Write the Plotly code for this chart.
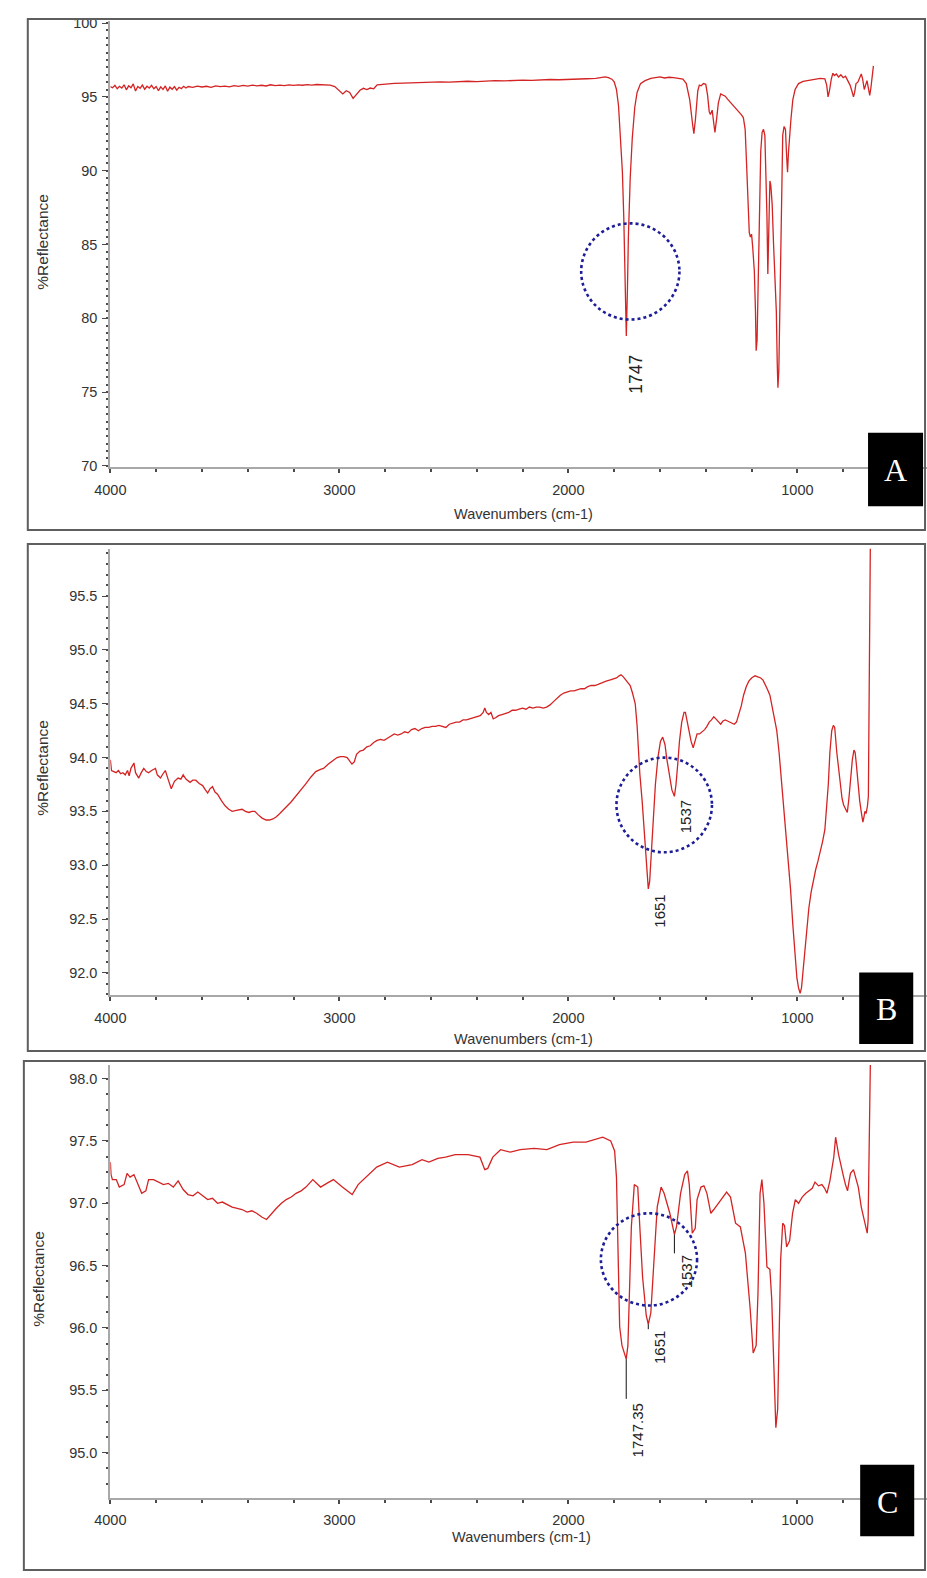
import plotly.graph_objects as go

W, H = 927, 1578

# ---------------- spectrum A ----------------
wn_a = [
    4000, 3990, 3980, 3970, 3960, 3950, 3940, 3930, 3920, 3910,
    3900, 3890, 3880, 3870, 3860, 3850, 3840, 3830, 3820, 3810,
    3800, 3790, 3780, 3770, 3760, 3750, 3740, 3730, 3720, 3710,
    3700, 3690, 3680, 3670, 3660, 3640, 3620, 3600, 3580, 3560,
    3540, 3520, 3500, 3480, 3460, 3440, 3420, 3400, 3380, 3360,
    3340, 3320, 3300, 3280, 3260, 3240, 3220, 3200, 3180, 3160,
    3140, 3120, 3100, 3080, 3060, 3040, 3020, 3000, 2985, 2970,
    2955, 2940, 2925, 2910, 2895, 2880, 2865, 2850, 2835, 2800,
    2760, 2720, 2680, 2640, 2600, 2560, 2520, 2480, 2440, 2400,
    2360, 2320, 2280, 2240, 2200, 2160, 2120, 2080, 2040, 2000,
    1960, 1920, 1880, 1860, 1840, 1825, 1810, 1800, 1790, 1781,
    1770, 1764, 1758, 1752, 1747, 1742, 1738, 1730, 1721, 1710,
    1700, 1685, 1665, 1640, 1620, 1600, 1580, 1560, 1540, 1520,
    1500, 1485, 1470, 1458, 1452, 1445, 1435, 1428, 1420, 1410,
    1400, 1392, 1385, 1380, 1372, 1365, 1360, 1352, 1345, 1335,
    1325, 1315, 1305, 1290, 1279, 1266, 1255, 1245, 1236, 1228,
    1222, 1215, 1210, 1205, 1200, 1195, 1188, 1183, 1180, 1176,
    1172, 1166, 1160, 1154, 1148, 1142, 1138, 1133, 1129, 1125,
    1120, 1116, 1110, 1104, 1098, 1092, 1088, 1085, 1081, 1076,
    1072, 1068, 1064, 1058, 1052, 1047, 1043, 1039, 1034, 1028,
    1020, 1010, 995, 975, 950, 925, 900, 880, 872, 866,
    860, 852, 845, 838, 830, 820, 810, 800, 790, 780,
    770, 762, 755, 750, 744, 736, 728, 721, 715, 708,
    702, 696, 690, 684, 679, 674, 668,
]
refl_a = [
    95.70, 95.62, 95.78, 95.55, 95.72, 95.60, 95.82, 95.48, 95.75, 95.62,
    95.88, 95.40, 95.70, 95.58, 95.80, 95.52, 95.72, 95.60, 95.78, 95.55,
    95.70, 95.42, 95.68, 95.50, 95.74, 95.38, 95.66, 95.52, 95.70, 95.46,
    95.65, 95.56, 95.72, 95.60, 95.70, 95.64, 95.73, 95.67, 95.72, 95.65,
    95.75, 95.69, 95.73, 95.68, 95.76, 95.71, 95.78, 95.73, 95.80, 95.75,
    95.79, 95.74, 95.82, 95.77, 95.80, 95.76, 95.81, 95.78, 95.82, 95.79,
    95.83, 95.80, 95.84, 95.81, 95.83, 95.80, 95.70, 95.45, 95.20, 95.42,
    95.30, 94.90, 95.15, 95.45, 95.58, 95.50, 95.60, 95.55, 95.82, 95.88,
    95.91, 95.93, 95.96, 95.98, 96.00, 96.02, 96.00, 96.04, 96.06, 96.04,
    96.08, 96.10, 96.08, 96.12, 96.14, 96.12, 96.16, 96.18, 96.16, 96.20,
    96.22, 96.23, 96.26, 96.28, 96.35, 96.30, 96.20, 96.02, 95.50, 94.40,
    91.50, 89.90, 86.80, 82.50, 78.80, 82.00, 85.50, 89.50, 92.20, 94.30,
    95.30, 95.90, 96.10, 96.25, 96.30, 96.35, 96.28, 96.33, 96.30, 96.25,
    96.20, 95.90, 94.80, 93.20, 92.50, 93.50, 95.40, 95.80, 95.75, 95.90,
    95.85, 95.10, 94.00, 93.80, 94.10, 93.20, 92.60, 93.60, 94.60, 95.20,
    95.10, 95.05, 94.85, 94.60, 94.40, 94.20, 94.00, 93.80, 93.60, 92.80,
    90.50, 86.80, 85.80, 85.50, 85.70, 84.80, 83.20, 80.50, 77.80, 78.50,
    82.00, 87.70, 91.30, 92.60, 92.80, 92.40, 90.50, 87.00, 83.00, 85.50,
    89.30, 89.00, 87.70, 85.00, 83.20, 80.50, 77.00, 75.30, 76.50, 81.00,
    86.50, 91.00, 92.40, 93.00, 92.80, 91.00, 89.90, 91.20, 92.40, 93.50,
    94.80, 95.50, 95.90, 96.05, 96.12, 96.20, 96.25, 96.22, 95.80, 95.00,
    95.40, 96.20, 96.60, 96.45, 96.55, 96.35, 96.50, 96.30, 96.40, 96.10,
    95.80, 95.40, 95.00, 95.30, 95.90, 96.00, 96.30, 96.55, 96.20, 95.50,
    95.80, 96.10, 95.60, 95.10, 95.60, 96.40, 97.10,
]

# ---------------- spectrum B ----------------
wn_b = [
    4000, 3995, 3985, 3975, 3965, 3955, 3945, 3935, 3925, 3918,
    3910, 3897, 3890, 3876, 3865, 3854, 3843, 3833, 3820, 3803,
    3795, 3781, 3770, 3760, 3748, 3734, 3720, 3704, 3692, 3682,
    3670, 3652, 3640, 3627, 3612, 3597, 3585, 3575, 3565, 3554,
    3543, 3532, 3515, 3498, 3483, 3468, 3450, 3435, 3425, 3410,
    3395, 3382, 3369, 3355, 3339, 3320, 3305, 3290, 3275, 3260,
    3245, 3228, 3210, 3190, 3167, 3145, 3124, 3103, 3082, 3069,
    3048, 3026, 3010, 2995, 2980, 2966, 2955, 2945, 2935, 2925,
    2910, 2895, 2880, 2865, 2850, 2835, 2820, 2805, 2790, 2775,
    2760, 2745, 2730, 2715, 2700, 2685, 2670, 2655, 2640, 2625,
    2610, 2595, 2580, 2565, 2550, 2535, 2520, 2505, 2490, 2475,
    2460, 2445, 2430, 2415, 2400, 2385, 2372, 2365, 2358, 2348,
    2338, 2328, 2318, 2305, 2290, 2275, 2260, 2245, 2230, 2215,
    2200, 2185, 2170, 2155, 2140, 2125, 2110, 2095, 2080, 2065,
    2050, 2035, 2020, 2005, 1990, 1975, 1960, 1945, 1930, 1915,
    1900, 1885, 1870, 1850, 1835, 1820, 1805, 1790, 1778, 1770,
    1760, 1748, 1738, 1730, 1720, 1708, 1700, 1695, 1688, 1678,
    1665, 1658, 1651, 1645, 1638, 1631, 1620, 1609, 1598, 1588,
    1578, 1571, 1560, 1548, 1537, 1530, 1522, 1515, 1505, 1495,
    1489, 1480, 1472, 1464, 1455, 1447, 1438, 1427, 1416, 1405,
    1395, 1385, 1375, 1365, 1356, 1345, 1335, 1325, 1315, 1305,
    1295, 1285, 1276, 1266, 1255, 1245, 1235, 1223, 1212, 1200,
    1185, 1172, 1160, 1150, 1140, 1130, 1120, 1110, 1100, 1090,
    1080, 1070, 1060, 1050, 1040, 1030, 1020, 1010, 1002, 995,
    988, 982, 975, 968, 960, 950, 940, 930, 920, 910,
    900, 890, 880, 872, 865, 858, 850, 843, 837, 828,
    820, 812, 805, 798, 790, 782, 775, 768, 760, 753,
    748, 743, 736, 728, 720, 714, 710, 705, 700, 694,
    690, 687, 684, 681,
]
refl_b = [
    93.98, 93.88, 93.87, 93.86, 93.88, 93.85, 93.86, 93.84, 93.88, 93.83,
    93.90, 93.95, 93.86, 93.81, 93.86, 93.90, 93.87, 93.86, 93.88, 93.90,
    93.84, 93.81, 93.85, 93.88, 93.80, 93.71, 93.78, 93.81, 93.80, 93.84,
    93.80, 93.77, 93.79, 93.79, 93.76, 93.74, 93.70, 93.67, 93.71, 93.73,
    93.68, 93.66, 93.60, 93.55, 93.52, 93.50, 93.51, 93.52, 93.52, 93.50,
    93.49, 93.50, 93.50, 93.47, 93.44, 93.42, 93.42, 93.43, 93.45, 93.48,
    93.51, 93.55, 93.59, 93.64, 93.70, 93.76, 93.82, 93.87, 93.89, 93.90,
    93.94, 93.98, 94.00, 94.01, 94.01, 94.00, 93.97, 93.94, 93.96, 94.03,
    94.06, 94.07, 94.10, 94.11, 94.14, 94.16, 94.17, 94.16, 94.18, 94.20,
    94.22, 94.21, 94.22, 94.24, 94.23, 94.26, 94.27, 94.25, 94.27, 94.28,
    94.28, 94.29, 94.29, 94.30, 94.29, 94.28, 94.31, 94.32, 94.33, 94.33,
    94.35, 94.35, 94.36, 94.37, 94.38, 94.39, 94.42, 94.46, 94.42, 94.40,
    94.42, 94.36, 94.37, 94.39, 94.40, 94.41, 94.42, 94.44, 94.44, 94.45,
    94.46, 94.45, 94.47, 94.46, 94.47, 94.47, 94.46, 94.47, 94.49, 94.52,
    94.55, 94.58, 94.60, 94.61, 94.62, 94.62, 94.63, 94.64, 94.64, 94.66,
    94.67, 94.67, 94.68, 94.70, 94.71, 94.72, 94.73, 94.74, 94.76, 94.77,
    94.75, 94.72, 94.70, 94.67, 94.60, 94.50, 94.30, 94.10, 93.85, 93.60,
    93.18, 92.95, 92.78, 92.85, 93.10, 93.40, 93.75, 94.00, 94.15, 94.19,
    94.12, 94.00, 93.85, 93.70, 93.64, 93.75, 93.95, 94.15, 94.33, 94.42,
    94.42, 94.32, 94.25, 94.15, 94.09, 94.15, 94.22, 94.22, 94.24, 94.26,
    94.29, 94.33, 94.35, 94.38, 94.36, 94.33, 94.31, 94.34, 94.35, 94.34,
    94.33, 94.32, 94.31, 94.33, 94.40, 94.48, 94.58, 94.66, 94.71, 94.74,
    94.76, 94.75, 94.74, 94.72, 94.68, 94.63, 94.58, 94.48, 94.38, 94.25,
    94.05, 93.80, 93.55, 93.25, 93.00, 92.78, 92.45, 92.12, 91.95, 91.86,
    91.81, 91.86, 92.02, 92.18, 92.38, 92.60, 92.75, 92.87, 92.96, 93.04,
    93.12, 93.22, 93.33, 93.52, 93.75, 94.05, 94.25, 94.30, 94.28, 94.05,
    93.90, 93.72, 93.62, 93.56, 93.52, 93.49, 93.62, 93.80, 93.98, 94.07,
    94.05, 93.95, 93.78, 93.60, 93.48, 93.40, 93.44, 93.50, 93.48, 93.55,
    93.64, 94.32, 95.40, 96.10,
]

# ---------------- spectrum C ----------------
wn_c = [
    4000, 3997, 3991, 3974, 3961, 3940, 3927, 3914, 3897, 3880,
    3863, 3845, 3833, 3811, 3790, 3768, 3747, 3725, 3704, 3682,
    3661, 3639, 3618, 3597, 3575, 3554, 3532, 3511, 3489, 3468,
    3446, 3425, 3403, 3382, 3361, 3339, 3318, 3305, 3275, 3253,
    3232, 3210, 3189, 3167, 3146, 3116, 3094, 3082, 3055, 3026,
    2987, 2944, 2918, 2890, 2867, 2837, 2790, 2738, 2682, 2639,
    2609, 2570, 2536, 2494, 2438, 2386, 2365, 2352, 2330, 2296,
    2253, 2210, 2150, 2094, 2039, 1979, 1923, 1880, 1850, 1815,
    1798, 1790, 1784, 1776, 1766, 1756, 1747.35, 1740, 1734, 1725,
    1712, 1697, 1688, 1676, 1660, 1651, 1640, 1626, 1612, 1595,
    1582, 1557, 1537, 1528, 1510, 1492, 1480, 1472, 1459, 1446,
    1438, 1421, 1408, 1395, 1378, 1365, 1335, 1309, 1292, 1270,
    1249, 1227, 1206, 1193, 1180, 1172, 1163, 1155, 1146, 1133,
    1120, 1112, 1099, 1094, 1086, 1077, 1073, 1064, 1056, 1047,
    1034, 1021, 1009, 995, 979, 963, 948, 935, 923, 908,
    893, 881, 871, 858, 841, 833, 820, 808, 798, 790,
    781, 774, 768, 755, 745, 734, 721, 708, 695, 691,
    687, 680,
]
refl_c = [
    97.33, 97.23, 97.19, 97.19, 97.13, 97.15, 97.24, 97.21, 97.23, 97.15,
    97.08, 97.10, 97.19, 97.19, 97.17, 97.15, 97.16, 97.13, 97.18, 97.11,
    97.07, 97.06, 97.09, 97.06, 97.03, 97.04, 97.00, 97.01, 96.99, 96.97,
    96.96, 96.95, 96.93, 96.94, 96.92, 96.89, 96.87, 96.90, 96.96, 97.00,
    97.03, 97.05, 97.08, 97.10, 97.13, 97.19, 97.15, 97.13, 97.16, 97.19,
    97.13, 97.07, 97.15, 97.20, 97.24, 97.29, 97.33, 97.29, 97.31, 97.35,
    97.33, 97.36, 97.37, 97.39, 97.39, 97.37, 97.27, 97.28, 97.37, 97.43,
    97.41, 97.43, 97.44, 97.43, 97.47, 97.49, 97.49, 97.51, 97.53, 97.50,
    97.42, 97.21, 96.55, 96.01, 95.86, 95.80, 95.75, 95.86, 96.28, 96.81,
    97.15, 97.13, 96.81, 96.41, 96.10, 96.03, 96.12, 96.55, 96.97, 97.13,
    97.08, 96.92, 96.75, 96.81, 97.08, 97.23, 97.26, 97.15, 96.76, 96.80,
    97.03, 97.13, 97.14, 97.08, 96.92, 96.95, 97.03, 97.09, 97.05, 96.84,
    96.81, 96.60, 96.15, 95.80, 95.86, 96.28, 97.08, 97.19, 97.00, 96.49,
    96.47, 96.23, 95.48, 95.20, 95.35, 96.02, 96.55, 96.84, 96.82, 96.65,
    96.70, 96.92, 97.03, 97.00, 97.05, 97.08, 97.10, 97.12, 97.17, 97.14,
    97.15, 97.12, 97.08, 97.18, 97.37, 97.53, 97.39, 97.28, 97.21, 97.15,
    97.10, 97.18, 97.24, 97.27, 97.20, 97.13, 96.97, 96.87, 96.76, 96.87,
    97.42, 98.30,
]

# ---------------- peak labels ----------------
peaks_a = [1747]
peak_text_a = ["1747"]
peaks_b = [1651, 1537]
peak_text_b = ["1651", "1537"]
peaks_c = [1747.35, 1651, 1537]
peak_text_c = ["1747.35", "1651", "1537"]

# ---------------- tick labels ----------------
x_major = [4000, 3000, 2000, 1000]
x_major_text = ["4000", "3000", "2000", "1000"]
x_minor = [v for v in range(3800, 500, -200) if v % 1000]

y_ticks_a = [70, 75, 80, 85, 90, 95, 100]
y_text_a = ["70", "75", "80", "85", "90", "95", "100"]
y_ticks_b = [92.0, 92.5, 93.0, 93.5, 94.0, 94.5, 95.0, 95.5]
y_text_b = ["92.0", "92.5", "93.0", "93.5", "94.0", "94.5", "95.0", "95.5"]
y_ticks_c = [95.0, 95.5, 96.0, 96.5, 97.0, 97.5, 98.0]
y_text_c = ["95.0", "95.5", "96.0", "96.5", "97.0", "97.5", "98.0"]

panel_letters = ["A", "B", "C"]
x_title = "Wavenumbers (cm-1)"
y_title = "%Reflectance"

# ---------------- styling ----------------
RED = "#d42323"
AXIS = "#a8a8a8"
TICK = "#4a4a4a"
TXT = "#333333"
FRAME = "#5e5e5e"
CIRCLE = "#1d1d98"
SANS = "Liberation Sans, Arial, sans-serif"
SERIF = "Liberation Serif, Times New Roman, serif"


def px_x(p):
    return p / W


def px_y(p):
    return 1 - p / H


X_LEFT_PX = 96
X_RANGE = [4000, 434]

panels = [
    dict(wn=wn_a, refl=refl_a, xa="x", ya="y", top=15, bottom=465,
         yrange=[69.89, 100.15], yticks=y_ticks_a, ytext=y_text_a, yminor=0.5,
         frame=(12, 13, 925, 528), box=(867, 430, 923, 504),
         ytitle=(27, 238), xtitle=(516, 512),
         circle=(1944, 1515, 79.91, 86.43),
         peaks=peaks_a, ptext=peak_text_a, pfont=17.5,
         shifts=[(10, -17)], leaders=[]),
    dict(wn=wn_b, refl=refl_b, xa="x2", ya="y2", top=547, bottom=997,
         yrange=[91.79, 95.94], yticks=y_ticks_b, ytext=y_text_b, yminor=0.1,
         frame=(12, 542, 925, 1053), box=(858, 974, 913, 1046),
         ytitle=(27, 768), xtitle=(516, 1041),
         circle=(1790, 1373, 93.12, 94.0),
         peaks=peaks_b, ptext=peak_text_b, pfont=15,
         shifts=[(11, -4), (11, -2)], leaders=[]),
    dict(wn=wn_c, refl=refl_c, xa="x3", ya="y3", top=1067, bottom=1503,
         yrange=[94.64, 98.11], yticks=y_ticks_c, ytext=y_text_c, yminor=0.125,
         frame=(8, 1063, 925, 1576), box=(859, 1470, 914, 1542),
         ytitle=(23, 1283), xtitle=(514, 1543),
         circle=(1858, 1438, 96.18, 96.92),
         peaks=peaks_c, ptext=peak_text_c, pfont=15,
         shifts=[(11, -42), (11, -5), (13, -19)], leaders=[40, 5, 19]),
]

fig = go.Figure()
layout = dict(
    width=W, height=H,
    margin=dict(l=0, r=0, t=0, b=0),
    paper_bgcolor="white", plot_bgcolor="white",
    showlegend=False,
    font=dict(family=SANS, color=TXT),
)
shapes = []
annotations = []

for i, p in enumerate(panels):
    fig.add_trace(go.Scatter(
        x=p["wn"], y=p["refl"], mode="lines",
        line=dict(color=RED, width=1.3),
        xaxis=p["xa"], yaxis=p["ya"], hoverinfo="skip",
    ))
    xkey = "xaxis" if p["xa"] == "x" else "xaxis" + p["xa"][1:]
    ykey = "yaxis" if p["ya"] == "y" else "yaxis" + p["ya"][1:]
    layout[xkey] = dict(
        domain=[px_x(X_LEFT_PX), 1.0], range=X_RANGE, anchor=p["ya"],
        showline=True, linecolor=AXIS, linewidth=2,
        ticks="outside", ticklen=4, tickwidth=2, tickcolor=TICK,
        tickmode="array", tickvals=x_major, ticktext=x_major_text,
        minor=dict(tickmode="array", tickvals=x_minor, ticks="outside",
                   ticklen=3, tickwidth=2, tickcolor=TICK),
        showgrid=False, zeroline=False, ticklabelstandoff=4,
        tickfont=dict(family=SANS, size=14.5, color=TXT),
    )
    layout[ykey] = dict(
        domain=[px_y(p["bottom"]), px_y(p["top"])], range=p["yrange"],
        anchor=p["xa"],
        showline=True, linecolor=AXIS, linewidth=2,
        ticks="outside", ticklen=6, tickwidth=1.3, tickcolor=TICK,
        tickmode="array", tickvals=p["yticks"], ticktext=p["ytext"],
        minor=dict(dtick=p["yminor"], ticks="outside", ticklen=2,
                   tickwidth=2, tickcolor=TICK),
        showgrid=False, zeroline=False, ticklabelstandoff=2,
        tickfont=dict(family=SANS, size=14.5, color=TXT),
    )

    # panel frame
    fx0, fy0, fx1, fy1 = p["frame"]
    shapes.append(dict(type="rect", xref="paper", yref="paper",
                       x0=px_x(fx0), x1=px_x(fx1), y0=px_y(fy1), y1=px_y(fy0),
                       line=dict(color=FRAME, width=2), layer="above"))
    # letter box
    bx0, by0, bx1, by1 = p["box"]
    shapes.append(dict(type="rect", xref="paper", yref="paper",
                       x0=px_x(bx0), x1=px_x(bx1), y0=px_y(by1), y1=px_y(by0),
                       fillcolor="black", line=dict(width=0), layer="above"))
    annotations.append(dict(
        text=panel_letters[i], xref="paper", yref="paper",
        x=px_x((bx0 + bx1) / 2), y=px_y((by0 + by1) / 2 + 1),
        xanchor="center", yanchor="middle", showarrow=False,
        font=dict(family=SERIF, size=32, color="white"),
    ))
    # dotted circle around the carbonyl / amide bands
    cx0, cx1, cy0, cy1 = p["circle"]
    shapes.append(dict(type="circle", xref=p["xa"], yref=p["ya"],
                       x0=cx0, x1=cx1, y0=cy0, y1=cy1,
                       line=dict(color=CIRCLE, width=2.6, dash="dot"),
                       layer="above"))
    # axis titles
    tx, ty = p["ytitle"]
    annotations.append(dict(
        text=y_title, xref="paper", yref="paper", x=px_x(tx), y=px_y(ty),
        xanchor="center", yanchor="middle", textangle=-90, showarrow=False,
        font=dict(family=SANS, size=15.5, color=TXT),
    ))
    tx, ty = p["xtitle"]
    annotations.append(dict(
        text=x_title, xref="paper", yref="paper", x=px_x(tx), y=px_y(ty),
        xanchor="center", yanchor="middle", showarrow=False,
        font=dict(family=SANS, size=14.5, color=TXT),
    ))

    # peak labels, anchored on the labelled minima
    units_per_px = (p["yrange"][1] - p["yrange"][0]) / (p["bottom"] - p["top"])
    for j, (pk, txt) in enumerate(zip(p["peaks"], p["ptext"])):
        val = p["refl"][p["wn"].index(pk)]
        dx, dy = p["shifts"][j]
        annotations.append(dict(
            text=txt, x=pk, y=val, xref=p["xa"], yref=p["ya"],
            xanchor="center", yanchor="top", textangle=-90,
            xshift=dx, yshift=dy, showarrow=False,
            font=dict(family=SANS, size=p["pfont"], color="#222222"),
        ))
        if p["leaders"]:
            shapes.append(dict(
                type="line", xref=p["xa"], yref=p["ya"],
                x0=pk, x1=pk, y0=val,
                y1=val - p["leaders"][j] * units_per_px,
                line=dict(color="#111111", width=1), layer="above"))

layout["shapes"] = shapes
layout["annotations"] = annotations
fig.update_layout(**layout)

fig.write_html("out.html")
